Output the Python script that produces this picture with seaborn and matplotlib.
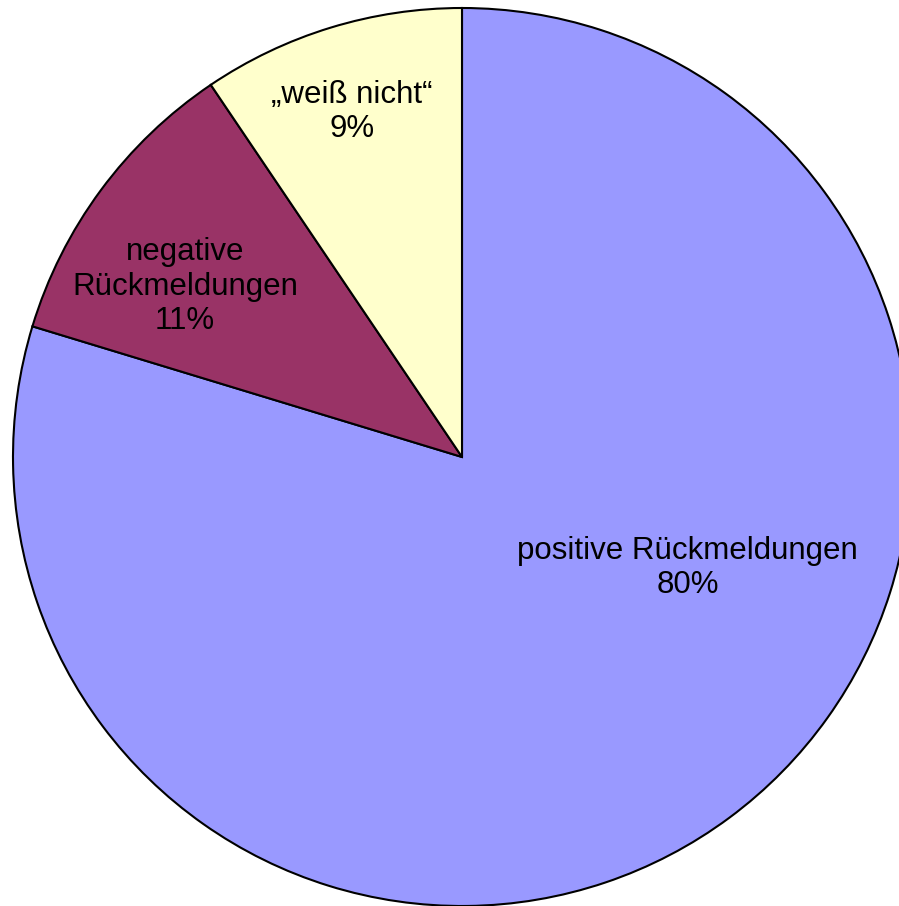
import matplotlib
matplotlib.use("Agg")
import matplotlib.pyplot as plt
import seaborn as sns

sns.set_theme(style="white")
plt.rcParams['font.family'] = ['Liberation Sans', 'DejaVu Sans']

categories = ['positive Rückmeldungen', 'negative\nRückmeldungen', '„weiß nicht“']
shares = [79.7, 10.85, 9.45]
colors = ['#9999FF', '#993366', '#FFFFCC']
# label anchor points in radius units (relative to pie centre)
label_pos = [(0.503, -0.247), (-0.617, 0.379), (-0.245, 0.768)]

fig = plt.figure(figsize=(8.99, 9.06), dpi=100)
ax = fig.add_axes([13 / 899, 0 / 906, 898 / 899, 898 / 906])

wedges, _ = ax.pie(shares, colors=colors, startangle=90, counterclock=False,
                   radius=1, wedgeprops=dict(edgecolor='black', linewidth=1.5))
for w in wedges:
    w.set_clip_on(False)

for cat, val, (x, y) in zip(categories, shares, label_pos):
    ax.text(x, y, f"{cat}\n{round(val)}%", ha='center', va='center',
            fontsize=22.5, color='black', linespacing=1.2)

ax.set_xlim(-1, 1)
ax.set_ylim(-1, 1)
ax.set_aspect('equal')
ax.axis('off')

fig.savefig('out.png', dpi=100)
